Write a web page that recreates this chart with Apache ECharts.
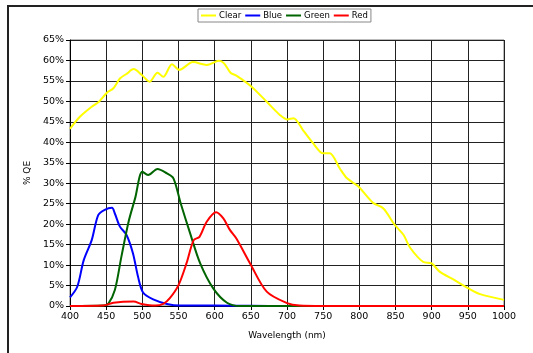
<!DOCTYPE html>
<html><head><meta charset="utf-8">
<script src="https://cdn.jsdelivr.net/npm/echarts@6/dist/echarts.min.js"></script>
<style>html,body{margin:0;padding:0;background:#fff}#c{width:533px;height:353px}</style>
</head><body><div id="c"></div>
<script>
var seriesNames = ['Clear', 'Blue', 'Green', 'Red'];
var xTicks = [400,450,500,550,600,650,700,750,800,850,900,950,1000];
var yTicks = [0,5,10,15,20,25,30,35,40,45,50,55,60,65];
var clearWl = [400,414,430,440,451,460,469,478,488,499,510,521,529,541,551,570,589,606,613,622,630,651,672,690,700,709,722,736,750,759,773,783,798,819,833,849,861,870,888,900,911,930,951,967,1000];
var clearQE = [43.3,46.3,48.7,49.9,52.1,53.2,55.6,56.7,57.9,56.5,54.8,57.0,56.0,59.1,57.7,59.6,58.9,59.9,59.3,57.0,56.3,53.6,49.9,46.7,45.6,45.9,43.0,39.8,37.3,37.3,33.6,31.2,29.3,25.2,23.9,19.8,17.4,14.3,10.8,10.4,8.4,6.5,4.3,2.9,1.5];
var blueWl = [400,410,419,430,439,448,458,462,469,478,487,494,501,515,534,552,600,650,700,1000];
var blueQE = [2.1,4.7,11.2,16.1,22.2,23.5,24.0,22.6,19.4,17.4,12.9,7.2,3.3,1.6,0.5,0.1,0.1,0.05,0,0];
var greenWl = [400,446,453,462,471,481,490,500,508,521,534,543,553,566,580,598,617,635,700,1000];
var greenQE = [0,0.1,0.6,3.9,12.0,20.6,26.3,32.8,32.0,33.5,32.4,31.2,25.1,17.8,10.4,4.3,0.8,0,0,0];
var redWl = [400,446,460,488,499,518,529,538,550,561,571,579,589,602,612,621,630,649,672,700,717,750,1000];
var redQE = [0,0.1,0.8,1.1,0.5,0.1,0.5,1.9,5.1,10.4,16.1,16.9,20.6,22.9,21.4,18.6,16.5,10.4,3.5,0.7,0.1,0,0];

function pairs(xs, ys){ return xs.map(function(x,i){ return [x, ys[i]]; }); }
var colors = ['#ffff00', '#0000ff', '#006400', '#ff0000'];
var datas = [pairs(clearWl,clearQE), pairs(blueWl,blueQE), pairs(greenWl,greenQE), pairs(redWl,redQE)];
var font = 'DejaVu Sans';
var chart = echarts.init(document.getElementById('c'), null, {renderer:'canvas'});
chart.setOption({
  animation: false,
  backgroundColor: '#fff',
  graphic: [{type:'polyline', shape:{points:[[8,360],[8,6],[540,6]]}, style:{stroke:'#222', lineWidth:2, fill:null}, silent:true}],
  legend: {
    data: seriesNames, top: 9, left: 198, itemGap: 4, itemWidth: 15, itemHeight: 2,
    padding: [2,3,2,3], borderColor: '#888', borderWidth: 1,
    icon: 'rect',
    textStyle: {fontFamily: font, fontSize: 8.5, color:'#000', padding:[0,0,0,-2]}
  },
  grid: {left: 70, right: 29, top: 40, bottom: 47, show: true, borderColor:'#777', borderWidth:1},
  xAxis: {
    type: 'value', min: 400, max: 1000, interval: 50,
    name: 'Wavelength (nm)', nameLocation: 'middle', nameGap: 25,
    nameTextStyle: {fontFamily: font, fontSize: 9, color:'#000'},
    axisLine: {show:true, lineStyle:{color:'#000'}},
    axisTick: {show:true, length: 4, inside:false, lineStyle:{color:'#000'}},
    axisLabel: {fontFamily: font, fontSize: 9.5, color:'#000', margin: 6, formatter: function(v){ return String(v); }},
    splitLine: {show:true, lineStyle:{color:'#222', width:1}}
  },
  yAxis: {
    type: 'value', min: 0, max: 65, interval: 5,
    name: '% QE', nameLocation: 'middle', nameGap: 38,
    nameTextStyle: {fontFamily: font, fontSize: 9, color:'#000'},
    axisLine: {show:true, lineStyle:{color:'#000'}},
    axisTick: {show:true, length: 4, lineStyle:{color:'#000'}},
    axisLabel: {fontFamily: font, fontSize: 9.5, color:'#000', margin: 6, formatter: '{value}%'},
    splitLine: {show:true, lineStyle:{color:'#222', width:1}}
  },
  series: seriesNames.map(function(n,i){
    return {name:n, type:'line', data: datas[i], smooth: 0.3, showSymbol:false, symbol:'none',
      lineStyle:{color:colors[i], width:2}, itemStyle:{color:colors[i]}};
  })
});
</script></body></html>
